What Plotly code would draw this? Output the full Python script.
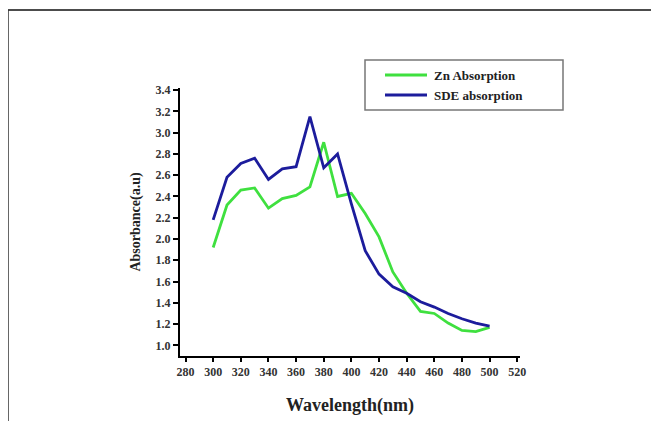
import plotly.graph_objects as go

wavelength = [300, 310, 320, 330, 340, 350, 360, 370, 380, 390, 400,
              410, 420, 430, 440, 450, 460, 470, 480, 490, 500]
zn_abs = [1.92, 2.32, 2.46, 2.48, 2.29, 2.38, 2.41, 2.49, 2.91, 2.40, 2.43,
          2.24, 2.02, 1.69, 1.49, 1.32, 1.30, 1.21, 1.14, 1.13, 1.17]
sde_abs = [2.18, 2.58, 2.71, 2.76, 2.56, 2.66, 2.68, 3.15, 2.67, 2.80, 2.33,
           1.89, 1.67, 1.55, 1.49, 1.41, 1.36, 1.30, 1.25, 1.21, 1.18]
x_ticks = list(range(280, 521, 20))
y_ticks = [1.0, 1.2, 1.4, 1.6, 1.8, 2.0, 2.2, 2.4, 2.6, 2.8, 3.0, 3.2, 3.4]

series = [("Zn Absorption", zn_abs, "#3fe03f"),
          ("SDE absorption", sde_abs, "#1c1c9c")]

# page has an 8px body margin; figure coordinates = page coordinates - 8
OFF = 8
W, H = 659 - OFF, 421 - OFF
L, T = 180 - OFF, 88 - OFF
PW, PH = 340, 268
R = W - L - PW
B = H - T - PH

def px(x):
    return (x - OFF - L) / PW

def py(y):
    return (H - B - (y - OFF)) / PH

fig = go.Figure()
for name, vals, col in series:
    fig.add_trace(go.Scatter(x=wavelength, y=vals, mode="lines", name=name,
                             line=dict(color=col, width=2.8), showlegend=False))

font_fam = "Liberation Serif"
fig.update_layout(
    width=W, height=H,
    margin=dict(l=L, r=R, t=T, b=B),
    paper_bgcolor="white", plot_bgcolor="white",
    xaxis=dict(range=[276, 522], tickvals=x_ticks, ticktext=[f"<b>{v}</b>" for v in x_ticks],
               automargin=False,
               showgrid=False, zeroline=False, showline=True, linecolor="black", linewidth=2,
               ticks="outside", ticklen=4, tickwidth=2, tickcolor="black",
               tickfont=dict(family=font_fam, size=12, color="#333"),
               title=dict(text="<b>Wavelength(nm)</b>", standoff=20,
                          font=dict(family=font_fam, size=18, color="#222"))),
    yaxis=dict(range=[0.9, 3.42], tickvals=y_ticks, ticktext=[f"<b>{v:.1f}</b>" for v in y_ticks],
               automargin=False,
               showgrid=False, zeroline=False, showline=True, linecolor="black", linewidth=2,
               ticks="outside", ticklen=5, tickwidth=2, tickcolor="black",
               tickfont=dict(family=font_fam, size=12, color="#333"),
               title=dict(text="<b>Absorbance(a.u)</b>", standoff=12,
                          font=dict(family=font_fam, size=14, color="#222"))),
)

# outer frame (top and left edges)
fig.add_shape(type="line", xref="paper", yref="paper",
              x0=px(7), x1=px(659 + OFF), y0=py(10), y1=py(10),
              line=dict(color="#111", width=1.5))
fig.add_shape(type="line", xref="paper", yref="paper",
              x0=px(8), x1=px(8), y0=py(10), y1=py(421 + OFF),
              line=dict(color="#333", width=1.5))

# legend box drawn manually to match reference proportions
fig.add_shape(type="rect", xref="paper", yref="paper",
              x0=px(365), x1=px(563), y0=py(60), y1=py(110),
              line=dict(color="#777", width=1.5), fillcolor="white", layer="above")
for i, (name, vals, col) in enumerate(series):
    yy = 75 + 20 * i
    fig.add_shape(type="line", xref="paper", yref="paper",
                  x0=px(385), x1=px(427), y0=py(yy), y1=py(yy),
                  line=dict(color=col, width=2.8), layer="above")
    fig.add_annotation(xref="paper", yref="paper", x=px(432), y=py(yy),
                       xanchor="left", yanchor="middle", showarrow=False,
                       text=f"<b>{name}</b>",
                       font=dict(family=font_fam, size=13, color="#222"))

fig.write_html("out.html")
